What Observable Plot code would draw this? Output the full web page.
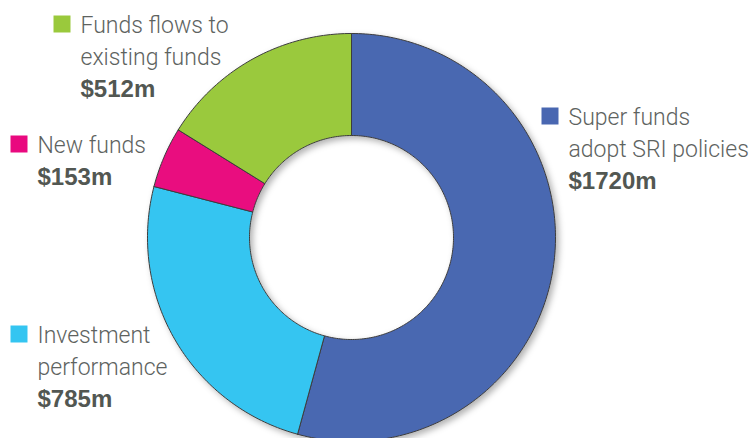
<!DOCTYPE html>
<html><head><meta charset="utf-8">
<script src="https://cdn.jsdelivr.net/npm/d3@7"></script>
<script src="https://cdn.jsdelivr.net/npm/@observablehq/plot@0.6"></script>
<style>html,body{margin:0;padding:0;background:#fff;overflow:hidden}</style>
</head><body><div id="chart"></div>
<script>
// ---- data ----
const categories = ["Super funds adopt SRI policies", "Investment performance", "New funds", "Funds flows to existing funds"];
const values = [1720, 785, 153, 512];
const colors = ["#4967b1", "#34c5f1", "#e9097f", "#9ac93c"];
const labelLines = [["Super funds", "adopt SRI policies"], ["Investment", "performance"], ["New funds"], ["Funds flows to", "existing funds"]];
const valueLabels = ["$1720m", "$785m", "$153m", "$512m"];

// ---- layout (pixels) ----
const W = 755, H = 438, cx = 351, cy = 237, R = 204, innerRatio = 0.5;
const labelAnchor = [[568, 124], [37, 342], [37, 152], [80, 32]]; // text x, first baseline
const lineGap = 32, sq = 17;
const toX = px => (px - cx) / R, toY = py => (cy - py) / R;

// ---- slices ----
const total = d3.sum(values);
const slicePts = [];
let acc = 0;
categories.forEach((c, i) => {
  const a0 = acc / total * 2 * Math.PI;
  acc += values[i];
  const a1 = acc / total * 2 * Math.PI;
  const n = Math.max(8, Math.ceil((a1 - a0) * 180 / Math.PI));
  const pts = [];
  for (let k = 0; k <= n; k++) { const t = a0 + (a1 - a0) * k / n; pts.push({cat: c, x: Math.sin(t), y: Math.cos(t)}); }
  for (let k = n; k >= 0; k--) { const t = a0 + (a1 - a0) * k / n; pts.push({cat: c, x: innerRatio * Math.sin(t), y: innerRatio * Math.cos(t)}); }
  pts.push({...pts[0]});
  slicePts.push(...pts);
});

// ---- labels ----
const nameRows = [], valueRows = [], squares = [];
categories.forEach((c, i) => {
  const [tx, by] = labelAnchor[i];
  labelLines[i].forEach((t, j) => nameRows.push({x: toX(tx), y: toY(by + j * lineGap), text: t}));
  valueRows.push({x: toX(tx), y: toY(by + labelLines[i].length * lineGap), text: valueLabels[i]});
  squares.push({cat: c, x: toX(tx - 10 - sq / 2), y: toY(by - sq / 2)});
});

const chart = Plot.plot({
  width: W, height: H, margin: 0,
  style: {background: "white", overflow: "hidden"},
  x: {domain: [-1, 1], range: [cx - R, cx + R], axis: null},
  y: {domain: [-1, 1], range: [cy + R, cy - R], axis: null},
  color: {domain: categories, range: colors},
  marks: [
    Plot.line(slicePts, {x: "x", y: "y", z: "cat", fill: "cat", stroke: "#3d3d3d", strokeWidth: 1, curve: "linear"}),
    Plot.dot(squares, {x: "x", y: "y", fill: "cat", symbol: "square", r: sq / Math.sqrt(Math.PI)}),
    Plot.text(nameRows, {x: "x", y: "y", text: "text", textAnchor: "start", lineAnchor: "bottom", fontSize: 23, fontFamily: "Roboto", fontWeight: 300, fill: "#5e635f"}),
    Plot.text(valueRows, {x: "x", y: "y", text: "text", textAnchor: "start", lineAnchor: "bottom", fontSize: 24, fontFamily: "Liberation Sans", fontWeight: "bold", fill: "#525752"})
  ]
});

// drop shadow under the ring
const ns = "http://www.w3.org/2000/svg";
const defs = document.createElementNS(ns, "defs");
defs.innerHTML = '<filter id="sh" x="-10%" y="-10%" width="130%" height="130%"><feDropShadow dx="3" dy="3" stdDeviation="3" flood-color="#000" flood-opacity="0.3"/></filter>';
chart.insertBefore(defs, chart.firstChild);
const ring = chart.querySelector('g[aria-label="line"]');
if (ring) ring.setAttribute("filter", "url(#sh)");
document.getElementById("chart").appendChild(chart);
</script>
</body></html>
